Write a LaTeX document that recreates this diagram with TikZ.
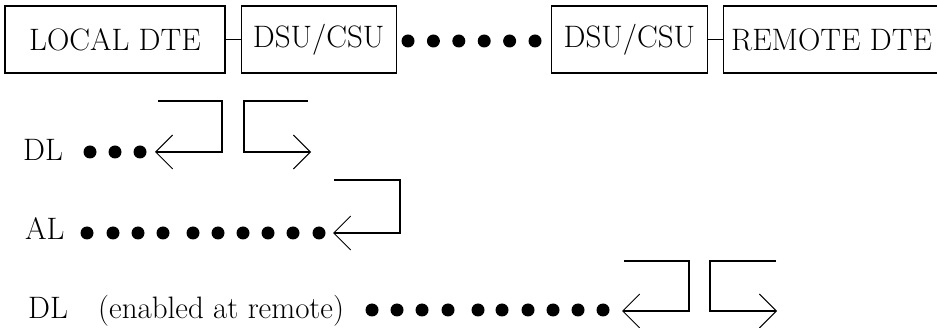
\documentclass[tikz,border=0pt]{standalone}
\usepackage{fontspec}
\usetikzlibrary{positioning,arrows.meta}
\begin{document}
\begin{tikzpicture}[x=1pt, y=-1pt, node distance=15pt, font=\fontsize{31}{37}\selectfont,
    unit/.style={draw, line width=1.2pt, minimum height=67pt, inner sep=0pt},
    dot/.style={circle, fill, minimum size=13pt, inner sep=0pt},
    lbl/.style={anchor=base west, inner sep=0pt},
    loopline/.style={line width=1.2pt, -{Straight Barb[length=17pt, width=34pt, line width=0.9pt]}}]
          \useasboundingbox (0,0) rectangle (937,328);

          \node[unit, minimum width=220pt] (local) at (115,39.5) {LOCAL DTE};
          \node[unit, minimum width=155pt, right=of local] (dsu1) {DSU/CSU};
          \node[unit, minimum width=156pt, right=154pt of dsu1] (dsu2) {DSU/CSU};
          \node[unit, minimum width=216pt, right=of dsu2] (remote) {REMOTE DTE};

          \foreach \i in {0,...,5}
            \node[dot] (t\i) at (408+25.4*\i,41) {};

          \path[draw, line width=1.2pt]
          (local) edge (dsu1)
          (dsu2) edge (remote);

          \node[lbl] (dl) at (23,161) {DL};
          \foreach \x [count=\i] in {90,115,140}
            \node[dot] (a\i) at (\x,152) {};
          \coordinate (dlin) at (158,101);
          \coordinate (dltip) at (155,152);
          \coordinate (dlout) at (308,101);
          \coordinate (dlend) at (311,152);
          \draw[loopline] (dlin) -- ++(64,0) |- (dltip);
          \draw[loopline] (dlout) -- ++(-64,0) |- (dlend);

          \node[lbl] (al) at (25,240) {AL};
          \foreach \x [count=\i] in {87,113,138,163,193,218,243,268,293,319}
            \node[dot] (b\i) at (\x,233) {};
          \coordinate (alin) at (334,180);
          \coordinate (altip) at (333,233);
          \draw[loopline] (alin) -- ++(66,0) |- (altip);

          \node[lbl] (rdl) at (28,319) {DL};
          \node[lbl] (note) at (98,319) {(enabled at remote)};
          \foreach \x [count=\i] in {372,397,422,448,478,502,528,553,578,603}
            \node[dot] (c\i) at (\x,310) {};
          \coordinate (rin) at (624,261);
          \coordinate (rtip) at (622,311);
          \coordinate (rout) at (776,261);
          \coordinate (rend) at (777,311);
          \draw[loopline] (rin) -- ++(65,0) |- (rtip);
          \draw[loopline] (rout) -- ++(-66,0) |- (rend);
        \end{tikzpicture}
\end{document}
